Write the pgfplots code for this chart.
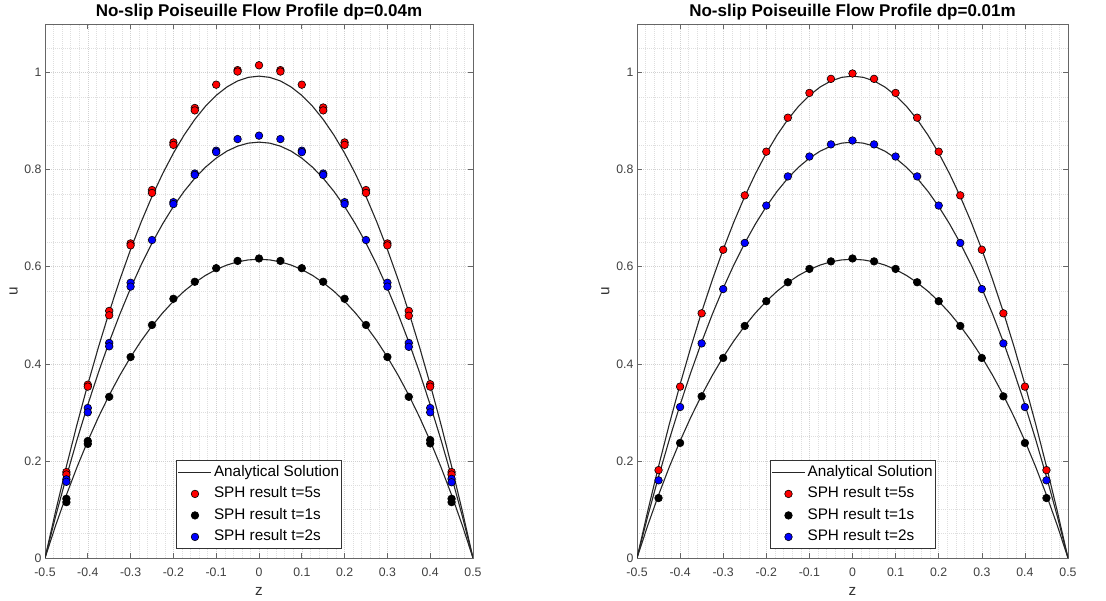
\documentclass[border=0pt]{standalone}
\usepackage{fontspec}
\setmainfont{Liberation Sans}
\usepackage{pgfplots}
\usepackage{pgfplotstable}
\pgfplotsset{compat=1.18}

% analytical transient Poiseuille profiles
\pgfplotstableread{
z u5 u2 u1
-0.500 0 0 0
-0.475 0.09692 0.08625 0.06732
-0.450 0.18884 0.16757 0.12983
-0.425 0.27577 0.24403 0.18770
-0.400 0.35771 0.31570 0.24113
-0.375 0.43466 0.38263 0.29030
-0.350 0.50663 0.44491 0.33537
-0.325 0.57362 0.50259 0.37651
-0.300 0.63564 0.55573 0.41390
-0.275 0.69268 0.60439 0.44768
-0.250 0.74475 0.64862 0.47800
-0.225 0.79186 0.68848 0.50500
-0.200 0.83399 0.72401 0.52880
-0.175 0.87117 0.75526 0.54952
-0.150 0.90339 0.78226 0.56726
-0.125 0.93064 0.80504 0.58212
-0.100 0.95294 0.82365 0.59416
-0.075 0.97028 0.83809 0.60347
-0.050 0.98267 0.84839 0.61007
-0.025 0.99010 0.85457 0.61403
0.000 0.99258 0.85663 0.61534
0.025 0.99010 0.85457 0.61403
0.050 0.98267 0.84839 0.61007
0.075 0.97028 0.83809 0.60347
0.100 0.95294 0.82365 0.59416
0.125 0.93064 0.80504 0.58212
0.150 0.90339 0.78226 0.56726
0.175 0.87117 0.75526 0.54952
0.200 0.83399 0.72401 0.52880
0.225 0.79186 0.68848 0.50500
0.250 0.74475 0.64862 0.47800
0.275 0.69268 0.60439 0.44768
0.300 0.63564 0.55573 0.41390
0.325 0.57362 0.50259 0.37651
0.350 0.50663 0.44491 0.33537
0.375 0.43466 0.38263 0.29030
0.400 0.35771 0.31570 0.24113
0.425 0.27577 0.24403 0.18770
0.450 0.18884 0.16757 0.12983
0.475 0.09692 0.08625 0.06732
0.500 0 0 0
}\analytic

% dp = 0.04 m
\pgfplotstableread{
z u
-0.45 0.177
-0.45 0.172
-0.40 0.357
-0.40 0.353
-0.35 0.509
-0.35 0.500
-0.30 0.648
-0.30 0.644
-0.25 0.758
-0.25 0.752
-0.20 0.856
-0.20 0.851
-0.15 0.927
-0.15 0.922
-0.10 0.975
-0.05 1.005
-0.05 1.002
0.00 1.015
0.05 1.005
0.05 1.002
0.10 0.975
0.15 0.928
0.15 0.922
0.20 0.856
0.20 0.851
0.25 0.758
0.25 0.752
0.30 0.648
0.30 0.644
0.35 0.509
0.35 0.499
0.40 0.358
0.40 0.353
0.45 0.177
0.45 0.172
}\redA
\pgfplotstableread{
z u
-0.45 0.122
-0.45 0.115
-0.40 0.241
-0.40 0.235
-0.35 0.332
-0.30 0.414
-0.25 0.480
-0.20 0.534
-0.15 0.569
-0.10 0.597
-0.05 0.612
0.00 0.617
0.05 0.612
0.10 0.597
0.15 0.569
0.20 0.534
0.25 0.480
0.30 0.414
0.35 0.332
0.40 0.243
0.40 0.236
0.45 0.122
0.45 0.115
}\blackA
\pgfplotstableread{
z u
-0.45 0.162
-0.45 0.157
-0.40 0.309
-0.40 0.300
-0.35 0.443
-0.35 0.436
-0.30 0.567
-0.30 0.559
-0.25 0.655
-0.20 0.733
-0.20 0.729
-0.15 0.792
-0.15 0.789
-0.10 0.839
-0.10 0.836
-0.05 0.863
0.00 0.870
0.05 0.863
0.10 0.839
0.10 0.836
0.15 0.792
0.15 0.789
0.20 0.733
0.20 0.729
0.25 0.655
0.30 0.567
0.30 0.559
0.35 0.443
0.35 0.435
0.40 0.309
0.40 0.300
0.45 0.163
0.45 0.156
}\blueA

% dp = 0.01 m
\pgfplotstableread{
z u
-0.45 0.181
-0.40 0.353
-0.35 0.504
-0.30 0.635
-0.25 0.747
-0.20 0.837
-0.15 0.907
-0.10 0.958
-0.05 0.987
0.00 0.998
0.05 0.987
0.10 0.958
0.15 0.907
0.20 0.837
0.25 0.747
0.30 0.635
0.35 0.504
0.40 0.353
0.45 0.181
}\redB
\pgfplotstableread{
z u
-0.45 0.1235
-0.40 0.237
-0.35 0.333
-0.30 0.412
-0.25 0.478
-0.20 0.529
-0.15 0.568
-0.10 0.5955
-0.05 0.611
0.00 0.617
0.05 0.611
0.10 0.5955
0.15 0.568
0.20 0.529
0.25 0.478
0.30 0.412
0.35 0.333
0.40 0.237
0.45 0.1235
}\blackB
\pgfplotstableread{
z u
-0.45 0.160
-0.40 0.311
-0.35 0.442
-0.30 0.554
-0.25 0.649
-0.20 0.726
-0.15 0.786
-0.10 0.827
-0.05 0.852
0.00 0.860
0.05 0.852
0.10 0.827
0.15 0.786
0.20 0.726
0.25 0.649
0.30 0.554
0.35 0.442
0.40 0.311
0.45 0.160
}\blueB

\pgfplotsset{
  matlab/.style={
    scale only axis, height=534pt,
    xmin=-0.5, xmax=0.5, ymin=0, ymax=1.1,
    xtick={-0.5,-0.4,-0.3,-0.2,-0.1,0,0.1,0.2,0.3,0.4,0.5},
    xticklabels={-0.5,-0.4,-0.3,-0.2,-0.1,0,0.1,0.2,0.3,0.4,0.5},
    ytick={0,0.2,0.4,0.6,0.8,1},
    yticklabels={0,0.2,0.4,0.6,0.8,1},
    minor x tick num=4,
    minor ytick={0.05,0.1,0.15,0.25,0.3,0.35,0.45,0.5,0.55,0.65,0.7,0.75,0.85,0.9,0.95,1.05},
    grid=both,
    major grid style={black!18, line width=0.5pt, dash pattern=on 1pt off 1pt},
    minor grid style={black!13, line width=0.5pt, dash pattern=on 1pt off 1pt},
    tick align=inside, tick pos=both, ticklabel pos=left,
    major tick length=5pt, minor tick length=0pt,
    axis line style={black!60, line width=0.7pt},
    every tick/.style={black!60, line width=0.6pt},
    /pgf/number format/assume math mode=true,
    tick label style={font=\fontsize{12.3}{14}\selectfont, text=black!75},
    yticklabel style={inner sep=0pt, xshift=-3.3pt},
    xticklabel style={inner sep=0pt, yshift=-10pt},
    every axis title/.style={font=\bfseries\fontsize{17}{20}\selectfont, at={(axis description cs:0.5,1)}, anchor=base, yshift=7pt},
    every axis x label/.style={at={(axis description cs:0.5,0)}, anchor=base, yshift=-38pt, font=\fontsize{15.3}{18}\selectfont, text=black!80},
    every axis y label/.style={at={(axis description cs:-0.064,0.5)}, rotate=90, anchor=base, font=\fontsize{15.3}{18}\selectfont, text=black!80},
    xlabel={z}, ylabel={u},
    legend image code/.code={\draw[mark repeat=2,mark phase=2,#1] plot coordinates {(0pt,0pt) (16.5pt,0pt) (33pt,0pt)};},
    legend style={at={(axis description cs:0.5,0.0169)}, anchor=south,
      draw=black!80, line width=0.6pt, fill=white,
      inner xsep=1.5pt, inner ysep=1pt,
      font=\fontsize{15.3}{18}\selectfont,
      nodes={inner ysep=3.5pt, inner xsep=1pt, text height=11pt, text depth=3.5pt},
      /tikz/every odd column/.style={column sep=1pt}},
    legend cell align=left,
  },
  curve/.style={black!85, line width=1.1pt},
  sph/.style={only marks, mark=*, mark size=3.8pt, mark options={draw=black, line width=0.6pt, fill=#1}},
}

\begin{document}
\begin{tikzpicture}[x=1pt,y=1pt]
\path[use as bounding box] (0,0) rectangle (1106,601);

\begin{axis}[matlab, width=428pt, at={(45pt,43pt)}, anchor=south west,
  title={No-slip Poiseuille Flow Profile dp=0.04m}]
  \addplot[curve] table[x=z,y=u5] {\analytic};
  \addlegendentry{Analytical Solution}
  \addplot[curve, forget plot] table[x=z,y=u1] {\analytic};
  \addplot[sph=red] table[x=z,y=u] {\redA};
  \addlegendentry{SPH result t=5s}
  \addplot[sph=black] table[x=z,y=u] {\blackA};
  \addlegendentry{SPH result t=1s}
  \addplot[sph=blue] table[x=z,y=u] {\blueA};
  \addlegendentry{SPH result t=2s}
  \addplot[curve, forget plot] table[x=z,y=u2] {\analytic};
\end{axis}

\begin{axis}[matlab, width=431pt, at={(637pt,43pt)}, anchor=south west,
  title={No-slip Poiseuille Flow Profile dp=0.01m}]
  \addplot[curve] table[x=z,y=u5] {\analytic};
  \addlegendentry{Analytical Solution}
  \addplot[curve, forget plot] table[x=z,y=u1] {\analytic};
  \addplot[sph=red] table[x=z,y=u] {\redB};
  \addlegendentry{SPH result t=5s}
  \addplot[sph=black] table[x=z,y=u] {\blackB};
  \addlegendentry{SPH result t=1s}
  \addplot[sph=blue] table[x=z,y=u] {\blueB};
  \addlegendentry{SPH result t=2s}
  \addplot[curve, forget plot] table[x=z,y=u2] {\analytic};
\end{axis}
\end{tikzpicture}
\end{document}
